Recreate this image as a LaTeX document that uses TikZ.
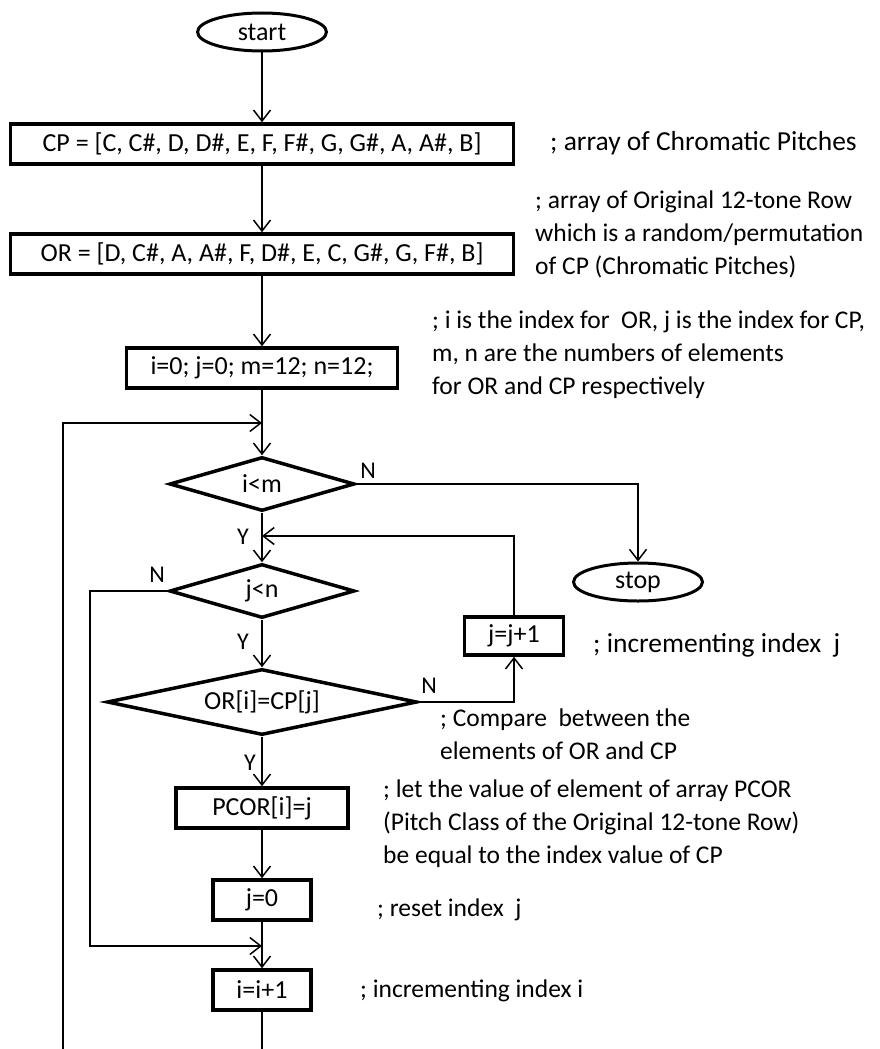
\documentclass[tikz,border=0pt]{standalone}
\usepackage{fontspec}
\setmainfont{Carlito}
\usepackage{tikz}
\usetikzlibrary{shapes.geometric,arrows.meta}
\definecolor{ink}{HTML}{000000}
\newcommand{\boxfont}{\fontsize{26}{31}\selectfont}
\newcommand{\notefont}{\fontsize{25.5}{33}\selectfont}
\newcommand{\bignotefont}{\fontsize{27.5}{33}\selectfont}
\newcommand{\ynfont}{\fontsize{24}{28}\selectfont}
\tikzset{
  box/.style={draw=ink, rectangle, line width=3.5pt, inner sep=0pt, minimum height=40pt, font=\boxfont},
  dec/.style={draw=ink, diamond, line width=3.5pt, inner sep=0pt, aspect=3.4, minimum width=185pt, minimum height=54pt, font=\boxfont},
  term/.style={draw=ink, ellipse, line width=3pt, inner sep=0pt, minimum width=129pt, minimum height=38pt, font=\boxfont},
  wire/.style={draw=ink, line width=1.5pt},
  flow/.style={wire, -{Straight Barb[length=11pt,width=17pt,line width=1.5pt]}},
  note/.style={text=ink, anchor=west, align=left, inner sep=0pt, font=\notefont},
  yn/.style={text=ink, inner sep=0pt, font=\ynfont},
}
\begin{document}
\begin{tikzpicture}[x=1pt,y=-1pt]
  \useasboundingbox (0,0) rectangle (880,1049);
  \node[term] (start) at (262,32) {start};
  \node[box,minimum width=503pt] (cp) at (262,144) {CP = [C, C\#, D, D\#, E, F, F\#, G, G\#, A, A\#, B]};
  \node[box,minimum width=503pt] (or) at (262,254) {OR = [D, C\#, A, A\#, F, D\#, E, C, G\#, G, F\#, B]};
  \node[box,minimum width=271pt] (init) at (262,368) {i=0; j=0; m=12; n=12;};
  \node[dec] (im) at (262,484) {i<m};
  \node[dec] (jn) at (262,591) {j<n};
  \node[dec,aspect=4.7,minimum width=310pt,minimum height=66pt] (eq) at (262,702) {OR[i]=CP[j]};
  \node[box,minimum width=172pt] (pcor) at (262,808) {PCOR[i]=j};
  \node[box,minimum width=98pt] (jzero) at (262,900) {j=0};
  \node[box,minimum width=98pt] (iinc) at (262,990) {i=i+1};
  \node[term] (stop) at (638,582) {stop};
  \node[box,minimum width=99pt,minimum height=38pt] (jinc) at (514,636) {j=j+1};
  \coordinate (loopin) at (262,423);
  \coordinate (loopbot) at (63,1049);
  \coordinate (jback) at (262,536);
  \coordinate (jleft) at (90,591);
  \coordinate (skip) at (262,946);
  \coordinate (iend) at (262,1049);
  \draw[flow] (start)--(cp);
  \draw[flow] (cp)--(or);
  \draw[flow] (or)--(init);
  \draw[flow] (init)--(im);
  \draw[flow] (im)--(jn);
  \draw[flow] (jn)--(eq);
  \draw[flow] (eq)--(pcor);
  \draw[flow] (pcor)--(jzero);
  \draw[flow] (jzero)--(iinc);
  \draw[wire] (iinc)--(iend);
  \draw[flow] (loopbot) |- (loopin);
  \draw[flow] (im.east) -| (stop.north);
  \draw[flow] (jn.west)--(jleft) |- (skip);
  \draw[flow] (eq.east) -| (jinc.south);
  \draw[flow] (jinc.north) |- (jback);
  \node[yn] (nim) at (368,471) {N};
  \node[yn] (yim) at (243,537) {Y};
  \node[yn] (njn) at (157,575) {N};
  \node[yn] (yjn) at (243,642) {Y};
  \node[yn] (neq) at (429,686) {N};
  \node[yn] (yeq) at (250,763) {Y};
  \node[note,font=\bignotefont] (cpnote) at (550,143) {; array of Chromatic Pitches};
  \node[note] (ornote) at (535,234) {; array of Original 12-tone Row\\which is a random/permutation\\of CP (Chromatic Pitches)};
  \node[note] (initnote) at (432,355) {; i is the index for~ OR, j is the index for CP,\\m, n are the numbers of elements\\for OR and CP respectively};
  \node[note,font=\bignotefont] (jincnote) at (593,645) {; incrementing index~ j};
  \node[note] (eqnote) at (440,734) {; Compare~ between the\\elements of OR and CP};
  \node[note] (pcornote) at (383,824) {; let the value of element of array PCOR\\(Pitch Class of the Original 12-tone Row)\\be equal to the index value of CP};
  \node[note] (jzeronote) at (377,910) {; reset index~ j};
  \node[note] (iincnote) at (360,991) {; incrementing index i};
\end{tikzpicture}
\end{document}
